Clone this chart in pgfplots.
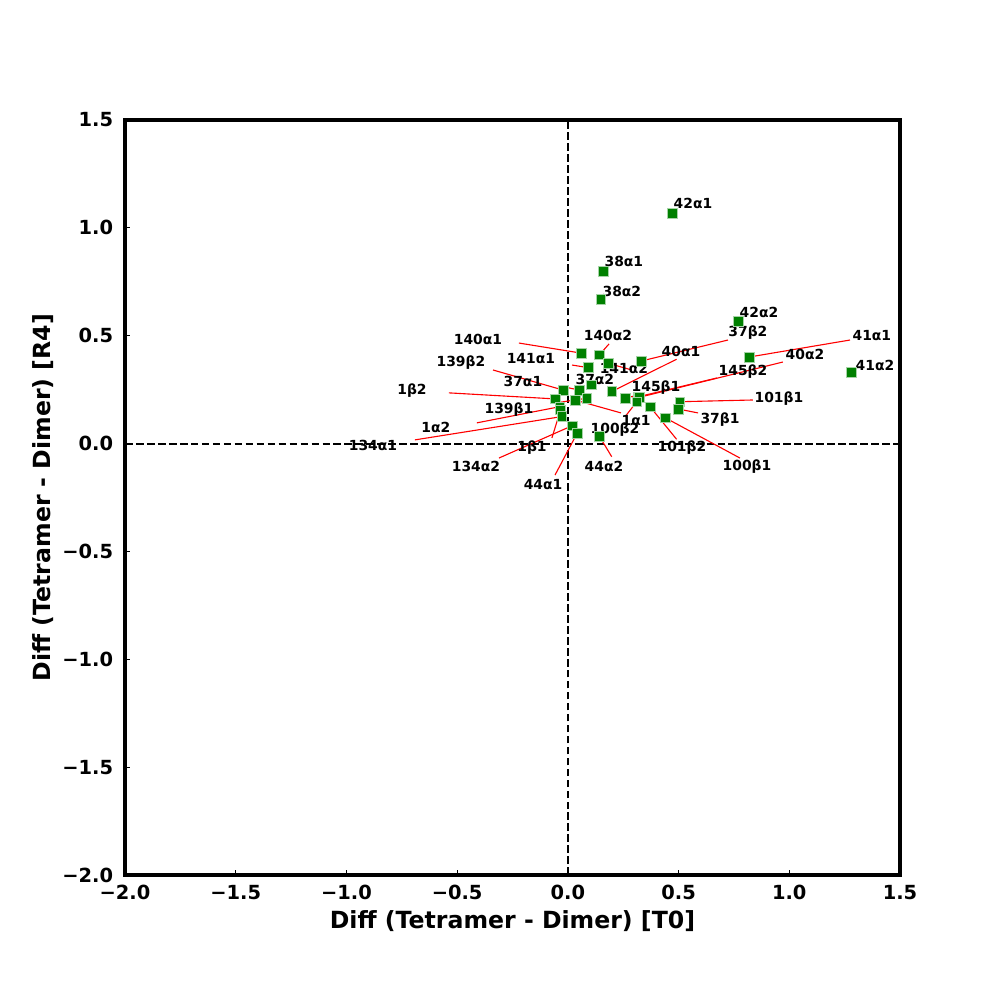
\documentclass[border=0pt]{standalone}
\usepackage{fontspec}
\setmainfont{DejaVu Sans}
\usepackage{pgfplots}
\usepackage{pgfplotstable}
\pgfplotsset{compat=1.18}
\definecolor{mplgreen}{HTML}{008000}

% diff of the two contacts, one row per residue pair
\pgfplotstableread{
x y
0.470 1.069
0.159 0.800
0.149 0.670
0.768 0.568
0.818 0.401
1.279 0.332
0.062 0.419
0.142 0.411
0.182 0.372
0.333 0.383
0.092 0.352
0.107 0.272
0.051 0.248
-0.021 0.248
0.198 0.241
0.085 0.210
0.032 0.202
-0.058 0.207
0.258 0.210
0.318 0.217
0.321 0.214
0.311 0.194
0.371 0.171
0.439 0.120
0.506 0.194
0.499 0.160
-0.036 0.171
-0.033 0.156
-0.028 0.125
0.020 0.083
0.042 0.048
0.142 0.035
}\pts

\newcommand{\lbl}[3]{\node[lab] at (axis cs:#1,#2) {#3};}
\newcommand{\lead}[4]{\draw[lead] (axis cs:#1,#2) -- (axis cs:#3,#4);}

\begin{document}
\begin{tikzpicture}[
  lab/.style={font=\fontsize{10}{12}\selectfont\bfseries, inner sep=0pt},
  lead/.style={red, line width=0.8pt}]
\path[use as bounding box] (0,0) rectangle (720pt,720pt);
\begin{axis}[at={(90pt,90pt)}, anchor=south west,
  scale only axis, width=558pt, height=543.6pt,
  xmin=-2, xmax=1.5, ymin=-2, ymax=1.5, clip=false,
  axis line style={line width=2.2pt},
  tick align=inside, major tick length=3.5pt, tick style={black, line width=0.6pt},
  xtick pos=bottom, ytick pos=left,
  xtick={-2,-1.5,-1,-0.5,0,0.5,1,1.5},
  xticklabels={−2.0,−1.5,−1.0,−0.5,0.0,0.5,1.0,1.5},
  ytick={-2,-1.5,-1,-0.5,0,0.5,1,1.5},
  yticklabels={−2.0,−1.5,−1.0,−0.5,0.0,0.5,1.0,1.5},
  xticklabel style={font=\fontsize{14}{16}\selectfont\bfseries, anchor=base, inner sep=0pt, yshift=-18pt},
  yticklabel style={font=\fontsize{14}{16}\selectfont\bfseries, anchor=east, inner sep=0pt, xshift=-8.4pt},
  xlabel={Diff (Tetramer - Dimer) [T0]},
  ylabel={Diff (Tetramer - Dimer) [R4]},
  xlabel style={font=\fontsize{17}{20}\selectfont\bfseries, at={(axis description cs:0.5,-0.0706)}, anchor=base, inner sep=0pt},
  ylabel style={font=\fontsize{17}{20}\selectfont\bfseries, at={(axis description cs:-0.0959,0.5)}, anchor=base, inner sep=0pt},
]
\addplot[black, line width=1.5pt, dash pattern=on 5.5pt off 2.4pt] coordinates {(0,-2) (0,1.5)};
\addplot[black, line width=1.5pt, dash pattern=on 5.5pt off 2.4pt] coordinates {(-2,0) (1.5,0)};
\addplot[only marks, mark=square*, mark size=3.5pt,
  mark options={fill=mplgreen, draw=mplgreen!35!white, line width=0.4pt}] table {\pts};

\lead{0.723}{0.480}{0.333}{0.383}
\lead{1.274}{0.480}{0.818}{0.401}
\lead{0.971}{0.378}{0.321}{0.214}
\lead{0.673}{0.304}{0.318}{0.217}
\lead{-0.221}{0.466}{0.062}{0.419}
\lead{0.186}{0.462}{0.142}{0.411}
\lead{0.019}{0.364}{0.092}{0.352}
\lead{0.289}{0.341}{0.182}{0.372}
\lead{0.491}{0.391}{0.198}{0.241}
\lead{-0.338}{0.341}{-0.021}{0.248}
\lead{-0.013}{0.262}{0.051}{0.248}
\lead{0.149}{0.286}{0.107}{0.272}
\lead{0.317}{0.225}{0.258}{0.210}
\lead{-0.537}{0.235}{-0.058}{0.207}
\lead{0.835}{0.202}{0.506}{0.194}
\lead{-0.058}{0.188}{0.085}{0.210}
\lead{-0.411}{0.096}{-0.036}{0.171}
\lead{0.258}{0.124}{0.311}{0.194}
\lead{0.240}{0.142}{0.032}{0.202}
\lead{0.588}{0.142}{0.499}{0.160}
\lead{-0.691}{0.017}{-0.028}{0.125}
\lead{-0.072}{0.026}{-0.033}{0.156}
\lead{0.491}{0.020}{0.371}{0.171}
\lead{0.777}{-0.067}{0.439}{0.120}
\lead{-0.311}{-0.067}{0.020}{0.083}
\lead{0.198}{-0.061}{0.142}{0.035}
\lead{-0.058}{-0.146}{0.042}{0.048}

\lbl{0.565}{1.111}{42α1}
\lbl{0.253}{0.842}{38α1}
\lbl{0.244}{0.707}{38α2}
\lbl{0.863}{0.610}{42α2}
\lbl{0.813}{0.513}{37β2}
\lbl{1.373}{0.503}{41α1}
\lbl{1.071}{0.415}{40α2}
\lbl{1.387}{0.364}{41α2}
\lbl{0.791}{0.332}{145β2}
\lbl{-0.406}{0.485}{140α1}
\lbl{0.181}{0.503}{140α2}
\lbl{-0.167}{0.392}{141α1}
\lbl{0.253}{0.350}{141α2}
\lbl{0.511}{0.425}{40α1}
\lbl{-0.483}{0.374}{139β2}
\lbl{-0.203}{0.290}{37α1}
\lbl{0.122}{0.295}{37α2}
\lbl{0.398}{0.258}{145β1}
\lbl{-0.704}{0.244}{1β2}
\lbl{0.953}{0.207}{101β1}
\lbl{-0.266}{0.156}{139β1}
\lbl{-0.596}{0.077}{1α2}
\lbl{0.308}{0.105}{1α1}
\lbl{0.213}{0.063}{100β2}
\lbl{0.687}{0.109}{37β1}
\lbl{-0.880}{-0.011}{134α1}
\lbl{-0.162}{-0.020}{1β1}
\lbl{0.515}{-0.020}{101β2}
\lbl{0.809}{-0.108}{100β1}
\lbl{-0.415}{-0.108}{134α2}
\lbl{0.163}{-0.108}{44α2}
\lbl{-0.112}{-0.192}{44α1}
\end{axis}
\end{tikzpicture}
\end{document}
